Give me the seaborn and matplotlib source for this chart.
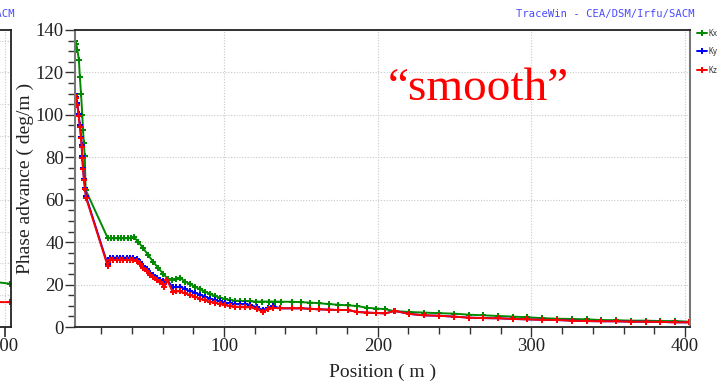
import numpy as np
import pandas as pd
import matplotlib
matplotlib.use("Agg")
import matplotlib.pyplot as plt
from matplotlib.ticker import MultipleLocator, FixedLocator
import seaborn as sns

# Phase advance per metre along the linac, three planes
green_x = [3.1, 3.9, 4.6, 5.6, 6.2, 7.0, 7.8, 8.3, 8.8, 9.4, 10.0,
           24.3, 26.5, 28.7, 30.9, 33.0, 35.2, 37.4, 39.6, 41.5,
           44.2, 47.5, 50.7, 54.0, 57.3, 60.5, 63.3, 66.0, 68.7, 71.4,
           74.6, 77.9, 81.1, 84.4, 87.6, 90.9, 94.1, 97.4, 100.6, 103.9,
           107.1, 110.4, 113.7, 117.0, 121.0, 125.0, 129.0, 133.0, 137.0, 144.0,
           150.0, 156.0, 162.0, 168.3, 174.4, 180.5, 186.7, 192.8, 199.0, 205.0,
           210.5, 220.3, 230.0, 240.0, 249.6, 259.4, 268.7, 278.5, 288.2, 297.0,
           306.7, 316.5, 326.2, 336.0, 345.1, 354.9, 364.6, 374.4, 383.7, 393.4, 402.7]
green_y = [135.0, 133.5, 130.5, 126.0, 118.0, 109.7, 100.0, 92.9, 86.6, 80.7, 64.6,
           42.0, 41.8, 41.8, 41.8, 41.8, 41.8, 41.8, 42.0, 42.3,
           40.2, 37.1, 33.9, 30.6, 27.8, 25.0, 22.8, 22.3, 22.6, 23.2,
           21.4, 20.3, 19.0, 17.8, 16.7, 15.6, 14.6, 13.8, 13.2, 12.7,
           12.4, 12.3, 12.2, 12.1, 12.0, 12.0, 12.0, 12.0, 11.9, 11.9,
           11.7, 11.5, 11.2, 10.8, 10.5, 10.2, 9.9, 9.1, 8.7, 8.4,
           7.5, 7.1, 6.8, 6.5, 6.3, 5.8, 5.5, 5.2, 4.9, 4.6,
           4.2, 3.9, 3.8, 3.6, 3.3, 3.2, 3.0, 3.0, 2.8, 2.8, 2.5]

red_x = [3.1, 3.7, 4.6, 5.4, 6.3, 7.0, 7.4, 7.8, 8.3, 8.9, 9.6, 10.2,
         24.3, 25.8, 28.0, 30.1, 32.3, 34.5, 36.6, 38.8, 41.0, 43.2,
         45.3, 47.5, 49.7, 51.9, 54.0, 56.2, 58.4, 60.0, 61.0, 63.1,
         66.6, 69.0, 71.4, 74.6, 77.9, 81.1, 84.4, 87.6, 90.9, 94.1,
         97.4, 100.6, 103.9, 107.1, 110.4, 113.7, 116.9, 121.3, 125.2, 128.8,
         132.1, 136.4, 144.0, 150.0, 156.0, 162.0, 168.3, 174.4, 180.5, 186.7,
         192.8, 199.0, 205.0, 211.0, 220.4, 230.0, 240.0, 249.6, 259.4, 268.7,
         278.5, 288.2, 297.0, 306.7, 316.5, 326.2, 336.0, 345.1, 354.9, 364.6,
         374.4, 383.7, 393.4, 402.7]
red_y = [109.4, 107.8, 104.7, 99.5, 94.4, 89.0, 85.0, 79.8, 74.3, 69.3, 64.9, 61.0,
         28.8, 31.6, 31.6, 31.6, 31.6, 31.6, 31.6, 31.6, 31.6, 31.0,
         29.8, 28.0, 26.3, 24.6, 23.4, 22.3, 21.2, 20.5, 18.7, 22.0,
         16.5, 16.8, 16.8, 15.9, 15.1, 14.3, 13.4, 12.6, 11.9, 11.5,
         10.8, 10.4, 9.9, 9.6, 9.4, 9.3, 9.3, 8.5, 7.2, 8.3,
         9.0, 8.8, 8.8, 8.8, 8.6, 8.3, 8.2, 8.0, 8.0, 7.1,
         6.8, 6.6, 6.4, 7.6, 6.2, 5.5, 5.3, 4.9, 4.4, 4.2,
         4.1, 3.8, 3.6, 3.4, 3.3, 3.0, 2.8, 2.7, 2.7, 2.5,
         2.5, 2.4, 2.2, 2.2]

blue_x = red_x
blue_y = [110.0, 108.5, 105.5, 100.2, 95.0, 89.6, 85.6, 80.4, 74.9, 69.9, 65.5, 61.6,
          29.5, 32.7, 32.7, 32.7, 32.7, 32.7, 32.7, 32.7, 32.7, 32.2,
          30.8, 28.8, 27.2, 25.5, 24.3, 23.3, 22.3, 21.5, 20.4, 22.2,
          18.7, 18.8, 19.0, 17.8, 16.9, 16.2, 15.1, 14.3, 13.4, 12.7,
          12.1, 11.5, 11.2, 10.8, 10.7, 10.7, 10.5, 9.3, 8.0, 9.1,
          9.9, 8.8, 8.8, 8.8, 8.6, 8.3, 8.2, 8.0, 8.0, 7.1,
          6.8, 6.6, 6.4, 7.6, 6.2, 5.5, 5.3, 4.9, 4.4, 4.2,
          4.1, 3.8, 3.6, 3.4, 3.3, 3.0, 2.8, 2.7, 2.7, 2.5,
          2.5, 2.4, 2.2, 2.2]

series_names = ["Kx", "Ky", "Kz"]
series_colors = ["#008a00", "#0000ff", "#ff0000"]

x_ticks = [100, 200, 300, 400]
y_ticks = [0, 20, 40, 60, 80, 100, 120, 140]

# partial neighbouring panel on the far left
left_green_x = [300, 380, 407]
left_green_y = [23.0, 21.5, 20.4]
left_red_x = [300, 380, 407]
left_red_y = [12.0, 11.8, 11.7]

frames = []
for name, xs, ys in zip(series_names, [green_x, blue_x, red_x], [green_y, blue_y, red_y]):
    frames.append(pd.DataFrame({"Position": xs, "Phase": ys, "Plane": name}))
df = pd.concat(frames, ignore_index=True)

sns.set_theme(style="white")
plt.rcParams["font.family"] = ["Liberation Serif", "DejaVu Serif"]

W, H = 722, 385
fig = plt.figure(figsize=(W / 100, H / 100), dpi=100)


def px_axes(left, top, right, bottom):
    return fig.add_axes([left / W, 1 - bottom / H, (right - left) / W, (bottom - top) / H])


tick_fs = 13.5
grid_kw = dict(color="#c8c8c8", linestyle=(0, (1, 1.5)), linewidth=0.8)
mk = dict(marker="P", markersize=4.0, markeredgewidth=0)

# ---- main panel ----
ax = px_axes(75, 30, 690, 327)
sns.lineplot(data=df, x="Position", y="Phase", hue="Plane", hue_order=series_names,
             palette=dict(zip(series_names, series_colors)), sort=False, estimator=None,
             linewidth=1.4, ax=ax, legend=True, **mk)
ax.set_xlim(3.06, 403.2)
ax.set_ylim(0, 140)
ax.xaxis.set_major_locator(FixedLocator(x_ticks))
ax.xaxis.set_minor_locator(MultipleLocator(20))
ax.yaxis.set_major_locator(FixedLocator(y_ticks))
ax.yaxis.set_minor_locator(MultipleLocator(5))
ax.tick_params(axis="both", which="major", direction="out", length=7, width=1,
               color="#333333", labelsize=tick_fs, labelcolor="#222222", pad=1,
               bottom=True, left=True)
ax.tick_params(axis="both", which="minor", direction="out", length=5, width=1,
               color="#333333", bottom=True, left=True)
ax.grid(True, which="major", **grid_kw)
for side in ["top", "bottom"]:
    ax.spines[side].set_color("#222222")
    ax.spines[side].set_linewidth(1.3)
for side in ["left", "right"]:
    ax.spines[side].set_color("#777777")
    ax.spines[side].set_linewidth(1.5)
ax.set_xlabel("Position ( m )", fontsize=14, color="#222222", labelpad=6)
ax.set_ylabel("Phase advance ( deg/m )", fontsize=14, color="#222222", labelpad=1)

leg = ax.legend(loc="upper left", bbox_to_anchor=(1.012, 1.005), frameon=False,
                handlelength=1.2, handletextpad=0.3, labelspacing=1.25,
                borderaxespad=0, borderpad=0,
                prop={"family": "DejaVu Sans Mono", "size": 5.5})
for t in leg.get_texts():
    t.set_color("#333333")

fig.text(388 / W, 1 - 100 / H, "\u201csmooth\u201d", color="#ff0000", fontsize=34,
         ha="left", va="baseline", family="Liberation Serif")

fig.text(695 / W, 1 - 17 / H, "TraceWin - CEA/DSM/Irfu/SACM", color="#4a4aff",
         fontsize=7.6, ha="right", va="baseline", family="DejaVu Sans Mono")

# ---- neighbouring panel, mostly outside the canvas ----
axl = px_axes(-300, 30, 11, 327)
axl.plot(left_green_x, left_green_y, color=series_colors[0], linewidth=1.4, **mk)
axl.plot(left_red_x, left_red_y, color=series_colors[2], linewidth=1.4, **mk)
axl.set_xlim(0, 407.9)
axl.set_ylim(0, 140)
axl.xaxis.set_major_locator(FixedLocator([400]))
axl.set_xticklabels(["400"])
axl.yaxis.set_major_locator(MultipleLocator(15))
axl.set_yticklabels([])
axl.tick_params(axis="x", direction="out", length=7, color="#333333",
                labelsize=tick_fs, labelcolor="#222222", pad=1, bottom=True)
axl.grid(True, which="major", **grid_kw)
for side in ["top", "bottom", "right"]:
    axl.spines[side].set_color("#222222")
    axl.spines[side].set_linewidth(1.3)
fig.text(15 / W, 1 - 17 / H, "TraceWin - CEA/DSM/Irfu/SACM", color="#4a4aff",
         fontsize=7.6, ha="right", va="baseline", family="DejaVu Sans Mono")

fig.savefig("out.png", dpi=100)
